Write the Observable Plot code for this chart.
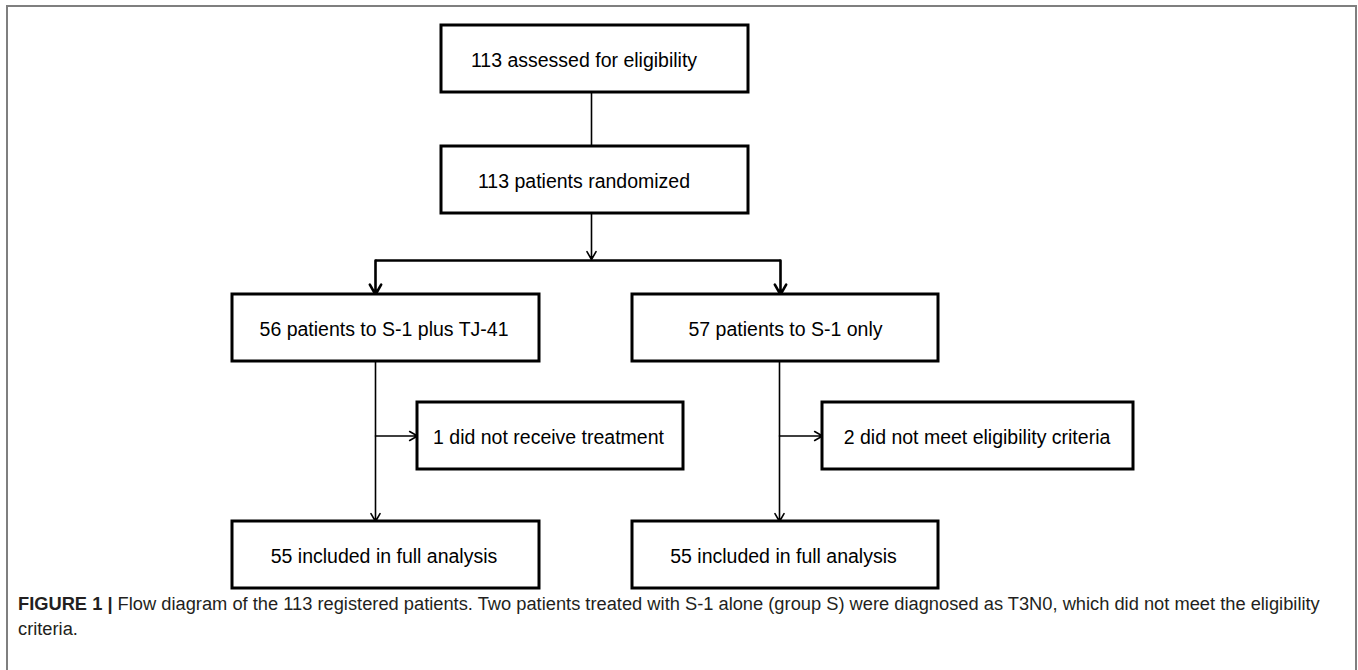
<!DOCTYPE html>
<html><head><meta charset="utf-8">
<script src="https://cdn.jsdelivr.net/npm/d3@7"></script>
<script src="https://cdn.jsdelivr.net/npm/@observablehq/plot@0.6"></script>
<style>
html,body{margin:0;padding:0;background:#fff;width:1358px;height:670px;overflow:hidden;}
#frame{position:absolute;left:6px;top:5px;width:1347px;height:720px;border:2px solid #7f7f7f;}
#chart{position:absolute;left:0;top:0;}
#caption{position:absolute;left:18px;top:592px;font-family:"Liberation Sans Narrow","Liberation Sans",Arial,sans-serif;font-size:18px;color:#231f20;line-height:25px;white-space:nowrap;transform-origin:0 0;}
#caption b{font-weight:bold;}
</style></head><body>
<div id="frame"></div>
<div id="chart"></div>
<div id="caption"></div>
<script>
// ---- data ----
const counts = [113, 113, 56, 57, 1, 2, 55, 55];
const labels = [
  "assessed for eligibility",
  "patients randomized",
  "patients to S-1 plus TJ-41",
  "patients to S-1 only",
  "did not receive treatment",
  "did not meet eligibility criteria",
  "included in full analysis",
  "included in full analysis"
];
const captionLabel = "FIGURE 1 |";
const captionLine1 = "Flow diagram of the 113 registered patients. Two patients treated with S-1 alone (group S) were diagnosed as T3N0, which did not meet the eligibility";
const captionLine2 = "criteria.";

// ---- layout (diagram units) ----
const boxLeft  = [441, 441, 232, 632, 417, 822, 232, 632];
const boxRight = [748, 748, 539, 938, 683, 1133, 539, 938];
const boxRow   = [0, 1, 2, 2, 3, 3, 4, 4];
const rowTop   = [25, 146, 294, 402, 521];
const boxH = 67;
const textShift = [-11, -11, -2, 0, -2, -1, -2, -2];
const mainX = 591, splitY = 260, leftX = 375, rightX = 779;

const boxes = counts.map((c, i) => ({
  x1: boxLeft[i], x2: boxRight[i],
  y1: rowTop[boxRow[i]], y2: rowTop[boxRow[i]] + boxH,
  xc: (boxLeft[i] + boxRight[i]) / 2 + textShift[i],
  yc: rowTop[boxRow[i]] + boxH / 2,
  text: `${c} ${labels[i]}`
}));
const B = boxes;
const plainLinks = [
  {x1: mainX, y1: B[0].y2, x2: mainX, y2: B[1].y1},
];
const thickLinks = [
  {x1: leftX, y1: splitY, x2: rightX + 1, y2: splitY}
];
const thickArrows = [
  {x1: leftX, y1: splitY, x2: leftX, y2: B[2].y1},
  {x1: rightX + 1, y1: splitY, x2: rightX + 1, y2: B[3].y1}
];
const thinArrows = [
  {x1: mainX, y1: B[1].y2, x2: mainX, y2: splitY - 1},
  {x1: leftX, y1: B[2].y2, x2: leftX, y2: B[6].y1},
  {x1: rightX, y1: B[3].y2, x2: rightX, y2: B[7].y1},
  {x1: leftX, y1: B[4].yc, x2: B[4].x1, y2: B[4].yc},
  {x1: rightX, y1: B[5].yc, x2: B[5].x1, y2: B[5].yc}
];

const W = 1358, H = 592;
const chart = Plot.plot({
  width: W, height: H, margin: 0,
  style: {background: "transparent"},
  x: {type: "linear", domain: [0, W], range: [0, W], axis: null},
  y: {type: "linear", domain: [0, H], range: [0, H], axis: null},
  marks: [
    Plot.link(plainLinks, {x1: "x1", y1: "y1", x2: "x2", y2: "y2", stroke: "#000", strokeWidth: 1.6}),
    Plot.link(thickLinks, {x1: "x1", y1: "y1", x2: "x2", y2: "y2", stroke: "#000", strokeWidth: 2.6}),
    Plot.arrow(thickArrows, {x1: "x1", y1: "y1", x2: "x2", y2: "y2", stroke: "#000", strokeWidth: 2.6, headLength: 7, headAngle: 60}),
    Plot.arrow(thinArrows, {x1: "x1", y1: "y1", x2: "x2", y2: "y2", stroke: "#000", strokeWidth: 1.6, headLength: 8.5, headAngle: 60}),
    Plot.rect(boxes, {x1: "x1", x2: "x2", y1: "y1", y2: "y2", fill: "#fff", stroke: "#000", strokeWidth: 3}),
    Plot.text(boxes, {x: "xc", y: "yc", text: "text", fill: "#000", fontSize: 19.5, dy: 2,
      fontFamily: "'Liberation Sans', Arial, sans-serif", textAnchor: "middle", lineAnchor: "middle"})
  ]
});
document.getElementById("chart").appendChild(chart);

const cap = document.getElementById("caption");
const l1 = document.createElement("div");
const b = document.createElement("b");
b.textContent = captionLabel;
l1.appendChild(b);
l1.appendChild(document.createTextNode(" " + captionLine1));
const l2 = document.createElement("div");
l2.textContent = captionLine2;
cap.appendChild(l1); cap.appendChild(l2);
l1.style.display = "inline-block";
const fit = () => {
  const w = l1.offsetWidth; // untransformed width
  const s = 1302 / w;
  cap.style.transform = `scaleX(${s})`;
};
fit();
if (document.fonts && document.fonts.ready) document.fonts.ready.then(fit);
</script>
</body></html>
